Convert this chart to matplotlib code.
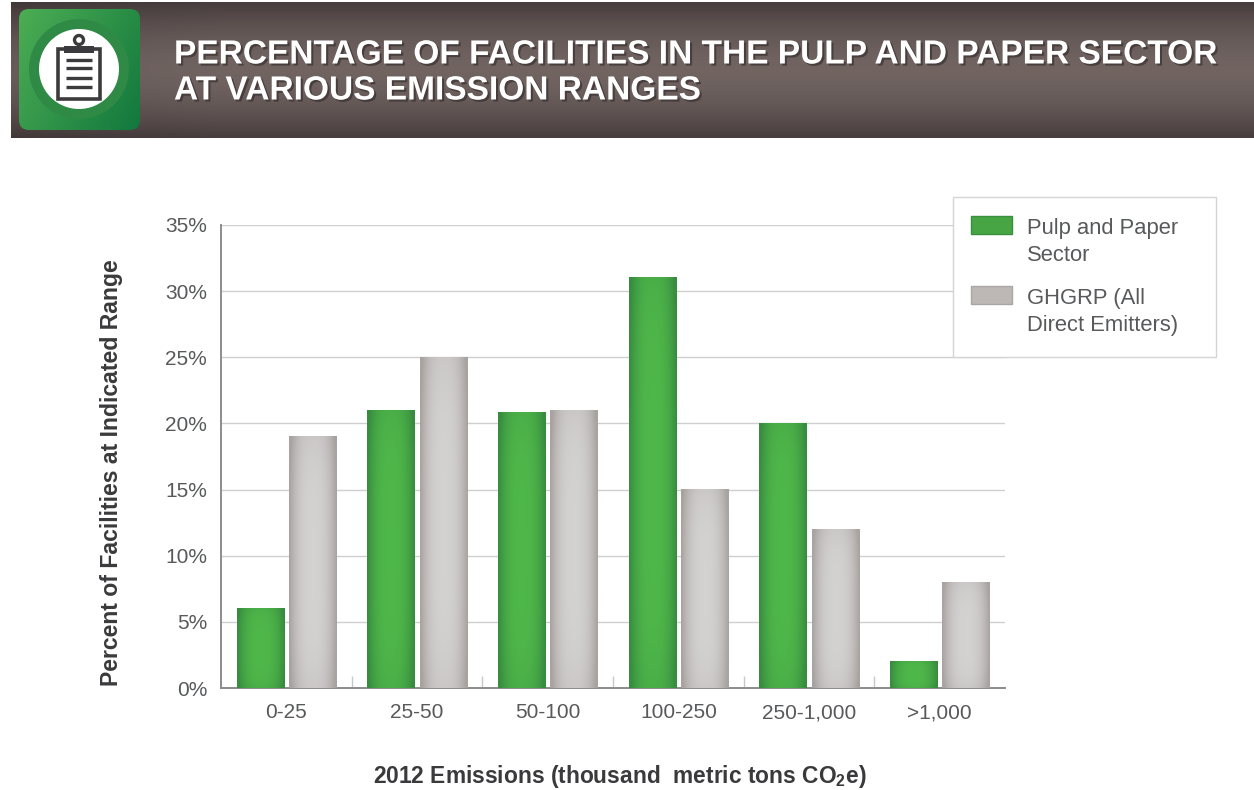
import numpy as np
import matplotlib
matplotlib.use("Agg")
import matplotlib.pyplot as plt
from matplotlib.patches import Circle, FancyBboxPatch, Patch, Rectangle
from matplotlib.legend_handler import HandlerPatch
from matplotlib import patheffects as pe

categories = ['0-25', '25-50', '50-100', '100-250', '250-1,000', '>1,000']
pulp_paper = [6, 21, 20.8, 31, 20, 2]
ghgrp = [19, 25, 21, 15, 12, 8]
y_ticks = [0, 5, 10, 15, 20, 25, 30, 35]

title_lines = ['PERCENTAGE OF FACILITIES IN THE PULP AND PAPER SECTOR',
               'AT VARIOUS EMISSION RANGES']
series_names = ['Pulp and Paper\nSector', 'GHGRP (All\nDirect Emitters)']

W, H = 1254, 790
plt.rcParams['font.family'] = ['Liberation Sans', 'DejaVu Sans']
plt.rcParams['mathtext.fontset'] = 'custom'
plt.rcParams['mathtext.bf'] = 'Liberation Sans:bold'

TEXT = '#58595b'
GREEN_MID, GREEN_EDGE = np.array([0.31, 0.72, 0.29]), np.array([0.22, 0.55, 0.25])
GRAY_MID, GRAY_EDGE = np.array([0.83, 0.82, 0.82]), np.array([0.66, 0.64, 0.63])


def shade(mid, edge, nx=48, ny=48):
    # darker towards the sides, a bit darker at top and bottom
    u = np.abs(np.linspace(-1, 1, nx))
    v = np.abs(np.linspace(-1, 1, ny))
    t = np.clip(u[None, :] ** 2.6 + 0.2 * v[:, None] ** 4, 0, 1)
    return mid + (edge - mid) * t[:, :, None]


def raised_swatch(legend, orig_handle, xdescent, ydescent, width, height, fontsize):
    # swatch sits next to the first line of the two line label
    return Rectangle((-xdescent, -ydescent + 12.5), width, height)


fig = plt.figure(figsize=(W / 100, H / 100), dpi=100, facecolor='white')

# full figure axes in pixel coords, for the banner
bg = fig.add_axes([0, 0, 1, 1], zorder=0)
bg.set_xlim(0, W)
bg.set_ylim(H, 0)
bg.axis('off')

v = np.abs(np.linspace(-1, 1, 70))[:, None]
u = np.linspace(0, 1, 200)[None, :]
banner = np.array([0.44, 0.39, 0.38]) + (np.array([0.28, 0.24, 0.24]) - np.array([0.44, 0.39, 0.38])) * (v ** 1.8)[:, :, None]
banner = banner * (0.92 + 0.08 * np.minimum(u * 6, 1))[:, :, None]
bg.imshow(banner, extent=(11, W, 138, 2), aspect='auto', zorder=1)

# icon
box = FancyBboxPatch((25, 15), 109, 109, boxstyle='round,pad=6,rounding_size=10',
                     fc='none', ec='none', zorder=2)
bg.add_patch(box)
yy, xx = np.mgrid[0:1:80j, 0:1:80j]
g = np.clip((xx + yy) / 2 + 0.15 * (xx - yy), 0, 1)[:, :, None]
im = bg.imshow(np.array([0.30, 0.68, 0.33]) + (np.array([0.07, 0.47, 0.24]) - np.array([0.30, 0.68, 0.33])) * g,
               extent=(19, 140, 130, 9), aspect='auto', zorder=2)
im.set_clip_path(box)
bg.add_patch(Circle((79, 69), 50, fc='#2f8a45', ec='none', zorder=3))
bg.add_patch(Circle((79, 69), 40, fc='white', ec='none', zorder=4))
DARK = '#3b3b3d'
bg.add_patch(Rectangle((58, 49), 42, 50, fc='white', ec=DARK, lw=2.6, zorder=5))
bg.add_patch(Rectangle((64, 46), 30, 7, fc=DARK, ec='none', zorder=6))
bg.add_patch(Circle((79, 40), 4.5, fc='white', ec=DARK, lw=2.4, zorder=6))
for yl in [60, 68, 78, 87]:
    bg.plot([66, 92], [yl, yl], color=DARK, lw=2.4, zorder=6, solid_capstyle='butt')

shadow = [pe.withSimplePatchShadow(offset=(1.5, -1.5), shadow_rgbFace='#2f2828', alpha=0.6)]
for yt, line in zip([55, 91], title_lines):
    bg.text(174, yt, line, color='white', fontsize=24.1, fontweight='bold',
            va='center', ha='left', path_effects=shadow, zorder=7)

bg.set_xlim(0, W)
bg.set_ylim(H, 0)

# chart
left, right, top, bottom = 221, 1005, 225, 688
ax = fig.add_axes([left / W, 1 - bottom / H, (right - left) / W, (bottom - top) / H], zorder=1)
ax.patch.set_alpha(0)
x = np.arange(len(categories))
w = 0.36
off = 0.2
bars_a = ax.bar(x - off, pulp_paper, w, color=GREEN_MID, zorder=3)
bars_b = ax.bar(x + off, ghgrp, w, color=GRAY_MID, zorder=3)
for bars, mid, edge in [(bars_a, GREEN_MID, GREEN_EDGE), (bars_b, GRAY_MID, GRAY_EDGE)]:
    for b in bars:
        ax.imshow(shade(mid, edge), aspect='auto', zorder=4,
                  extent=(b.get_x(), b.get_x() + b.get_width(), 0, b.get_height()))

ax.set_xlim(-0.5, len(categories) - 0.5)
ax.set_ylim(0, 35)
ax.set_yticks(y_ticks)
ax.set_yticklabels([f'{t}%' for t in y_ticks], fontsize=15, color=TEXT)
ax.set_xticks(x)
ax.set_xticklabels(categories, fontsize=15, color=TEXT)
ax.set_xticks(x[:-1] + 0.5, minor=True)
ax.tick_params(axis='x', which='major', length=0, pad=11)
ax.tick_params(axis='x', which='minor', direction='in', length=9, color='#c8c8c8', width=1)
ax.tick_params(axis='y', length=0, pad=10)
ax.grid(axis='y', color='#cfcfcf', lw=1, zorder=1)
ax.set_axisbelow(True)
for s in ['top', 'right']:
    ax.spines[s].set_visible(False)
for s in ['left', 'bottom']:
    ax.spines[s].set_color('#8c8c8c')
    ax.spines[s].set_linewidth(1.4)

fig.text(112 / W, 1 - 473 / H, 'Percent of Facilities at Indicated Range', rotation=90,
         fontsize=16.6, fontweight='bold', color='#3a3a3c', ha='center', va='center')
fig.text(620 / W, 1 - 776 / H, r'2012 Emissions (thousand  metric tons CO$_{\mathbf{2}}$e)',
         fontsize=16.4, fontweight='bold', color='#3a3a3c', ha='center', va='center')

# legend frame is wider than the legend content, so it is drawn on its own
fig.add_artist(Rectangle((953 / W, 1 - 357 / H), 263 / W, 160 / H, transform=fig.transFigure,
                         fc='white', ec='#d4d4d4', lw=1, zorder=4))
handles = [Patch(fc=GREEN_MID * 0.9, ec='#3a8f3f'), Patch(fc=GRAY_EDGE + 0.08, ec='#a9a6a5')]
leg = fig.legend(handles, series_names, loc='upper left',
                 bbox_to_anchor=(953 / W, 1 - 200 / H), borderaxespad=0,
                 fontsize=15.8, labelcolor=TEXT, frameon=False,
                 handlelength=1.87, handleheight=0.91, handletextpad=0.68,
                 borderpad=0.82, labelspacing=1.02,
                 handler_map={Patch: HandlerPatch(patch_func=raised_swatch)})
for t in leg.get_texts():
    t.set_linespacing(1.35)
leg.set_zorder(5)

fig.savefig('out.png', dpi=100)
